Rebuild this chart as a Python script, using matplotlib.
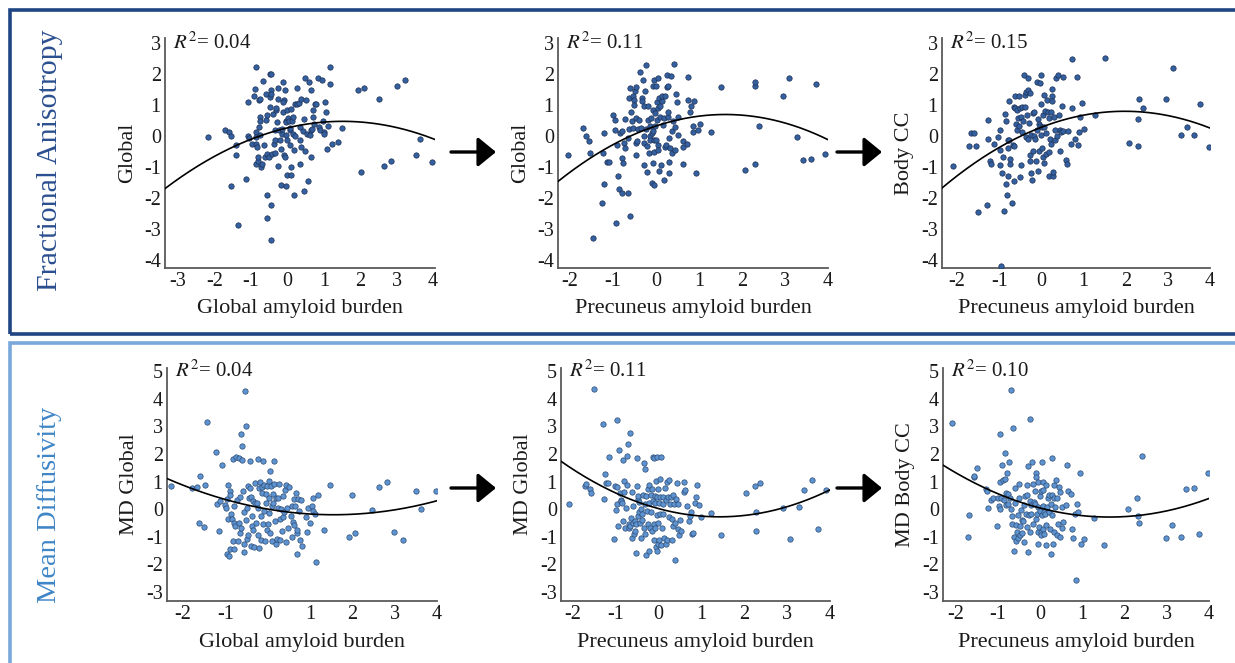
import numpy as np
import matplotlib
matplotlib.use('Agg')
import matplotlib.pyplot as plt
from matplotlib.patches import Rectangle, FancyArrowPatch

plt.rcParams['font.family'] = 'Liberation Serif'
plt.rcParams['mathtext.fontset'] = 'stix'
plt.rcParams['axes.unicode_minus'] = False

# points, flat x,y pairs
fa_global = [
    -2.19,-0.04, -1.71,0.19, -1.60,0.12, -1.55,-0.02, -1.42,-0.31, -1.41,-0.63, -1.55,-1.61, -1.37,-2.87,
    -1.15,-1.39, -1.09,1.10, -1.07,-0.02, -1.05,-0.08, -0.98,-0.26, -0.92,1.29, -0.89,1.52, -0.85,2.22,
    -0.85,0.12, -0.85,-0.04, -0.87,-0.26, -0.84,-0.37, -0.86,-0.90, -0.80,-0.80, -0.80,-0.69, -0.78,1.16,
    -0.75,1.18, -0.75,0.62, -0.75,0.49, -0.78,0.28, -0.74,0.03, -0.73,-1.01, -0.69,-0.90, -0.66,1.78,
    -0.65,-0.31, -0.62,-0.69, -0.57,-0.58, -0.58,1.35, -0.58,0.52, -0.57,0.66, -0.55,-1.92, -0.57,-2.65,
    -0.51,-0.69, -0.48,1.25, -0.47,2.00, -0.46,1.48, -0.48,0.92, -0.44,1.35, -0.44,1.98, -0.45,-2.22,
    -0.46,-3.35, -0.41,-0.58, -0.40,0.71, -0.36,-0.26, -0.35,0.17, -0.34,-0.56, -0.33,-0.15, -0.31,0.82,
    -0.30,0.90, -0.29,0.44, -0.27,1.55, -0.25,-0.96, -0.25,1.19, -0.24,0.17, -0.21,-0.15, -0.18,-0.44,
    -0.19,-1.58, -0.16,0.06, -0.15,0.23, -0.13,0.77, -0.12,1.73, -0.10,1.14, -0.11,1.09, -0.09,-0.63,
    -0.07,-0.69, -0.06,1.48, -0.05,0.49, -0.05,0.44, -0.03,-1.63, -0.04,0.01, -0.01,0.82, -0.01,-0.15,
    -0.01,-1.25, 0.02,0.58, 0.04,0.49, 0.06,0.17, 0.07,-0.31, 0.08,0.26, 0.09,0.87, 0.09,-1.25,
    0.11,-1.01, 0.13,0.49, 0.14,0.60, 0.16,0.06, 0.18,-0.47, 0.19,-1.92, 0.20,-0.02, 0.22,1.01,
    0.25,1.55, 0.26,1.03, 0.31,1.05, 0.34,0.28, 0.35,-0.15, 0.35,-0.92, 0.36,1.19, 0.38,-0.37,
    0.42,0.15, 0.45,-1.78, 0.45,0.55, 0.47,-0.49, 0.48,1.86, 0.52,1.16, 0.53,0.06, 0.56,-1.47,
    0.60,1.73, 0.62,0.04, 0.64,-0.69, 0.65,0.19, 0.65,1.48, 0.67,0.23, 0.69,0.62, 0.71,0.82,
    0.73,0.39, 0.75,1.01, 0.78,1.03, 0.84,1.87, 0.87,0.28, 0.90,0.20, 0.95,1.81, 0.97,0.47,
    1.00,0.12, 1.00,0.06, 1.02,1.09, 1.06,0.76, 1.09,-0.42, 1.11,0.30, 1.16,2.22, 1.18,1.68,
    1.22,-0.26, 1.38,-0.20, 1.51,0.25, 1.94,1.49, 2.02,-1.17, 2.09,1.55, 2.50,1.20, 2.65,-0.96,
    2.85,-0.82, 3.00,1.60, 3.22,1.80, 3.52,-0.63, 3.64,-0.11, 3.98,-0.83,
]

fa_prec = [
    -2.04,-0.61, -1.69,0.25, -1.64,0.00, -1.55,-0.18, -1.53,-0.54, -1.47,-3.30, -1.26,-2.15, -1.24,-0.56,
    -1.21,0.09, -1.20,-1.55, -1.15,-0.83, -1.09,-0.83, -0.99,0.68, -0.96,0.52, -0.96,0.19, -0.94,-2.82,
    -0.90,-0.29, -0.88,-1.31, -0.87,-1.72, -0.84,0.09, -0.80,0.14, -0.79,-1.85, -0.78,-0.72, -0.77,-0.88,
    -0.74,-0.24, -0.72,0.54, -0.72,-0.40, -0.66,-1.85, -0.65,-0.08, -0.63,0.23, -0.62,1.22, -0.60,1.54,
    -0.60,-2.58, -0.58,0.78, -0.57,0.49, -0.54,0.24, -0.54,1.27, -0.52,1.14, -0.51,1.00, -0.49,1.43,
    -0.47,1.57, -0.47,0.57, -0.47,-0.61, -0.46,-0.24, -0.44,-0.18, -0.41,0.23, -0.40,0.52, -0.38,2.04,
    -0.35,0.24, -0.33,1.22, -0.32,1.11, -0.30,1.81, -0.29,0.95, -0.28,-0.94, -0.27,-0.02, -0.27,-0.24,
    -0.26,1.43, -0.24,2.29, -0.23,0.22, -0.21,-0.34, -0.21,-1.18, -0.19,0.97, -0.18,0.52, -0.16,-0.56,
    -0.15,-0.02, -0.14,0.30, -0.13,-0.13, -0.12,0.57, -0.10,0.09, -0.09,-1.53, -0.08,0.84, -0.07,-0.88,
    -0.07,1.59, -0.06,0.14, -0.05,-0.13, -0.05,-0.51, -0.04,-1.58, -0.04,1.81, -0.02,0.73, -0.02,0.32,
    -0.01,-0.13, 0.01,1.61, 0.02,1.09, 0.02,0.52, 0.04,-0.29, 0.04,-0.47, 0.05,1.86, 0.05,0.89,
    0.06,-1.15, 0.07,1.22, 0.09,0.62, 0.10,0.97, 0.12,-0.94, 0.13,1.11, 0.15,1.29, 0.16,0.35,
    0.18,0.57, 0.19,-1.42, 0.21,-0.37, 0.22,1.27, 0.23,-0.29, 0.25,1.57, 0.26,1.97, 0.27,0.60,
    0.28,0.78, 0.29,1.61, 0.30,-1.20, 0.31,-0.08, 0.31,-0.83, 0.33,-0.40, 0.35,1.94, 0.37,-0.56,
    0.38,0.14, 0.40,0.46, 0.42,2.30, 0.43,0.28, 0.44,-0.47, 0.47,1.35, 0.48,1.08, 0.50,0.01,
    0.52,0.60, 0.62,-0.18, 0.63,-0.37, 0.62,-0.91, 0.71,-0.26, 0.74,1.88, 0.74,1.14, 0.80,0.75,
    0.82,0.95, 0.86,0.33, 0.87,0.12, 0.89,1.12, 0.93,-1.20, 0.97,0.19, 1.03,0.38, 1.27,0.12,
    1.50,1.57, 2.07,-1.10, 2.30,-0.90, 2.31,1.61, 2.31,1.72, 2.39,0.30, 2.95,1.27, 3.09,1.86,
    3.28,-0.04, 3.42,-0.77, 3.60,-0.75, 3.73,1.67, 3.93,-0.58,
]

fa_body = [
    -2.09,-0.97, -1.72,-0.34, -1.68,0.09, -1.59,0.09, -1.56,-0.32, -1.50,-2.47, -1.30,-2.24, -1.26,0.52,
    -1.26,-0.10, -1.23,-0.82, -1.19,-0.90, -1.13,-0.26, -1.04,-0.04, -0.99,0.19, -0.99,-0.45, -0.98,-0.94,
    -0.97,-4.18, -0.93,-1.20, -0.91,-0.69, -0.90,-2.41, -0.86,0.71, -0.84,0.47, -0.83,-1.55, -0.82,-1.92,
    -0.80,-1.28, -0.80,-0.39, -0.79,-0.15, -0.77,1.12, -0.76,-0.13, -0.75,-0.92, -0.74,-0.74, -0.70,-2.17,
    -0.68,-0.31, -0.66,0.92, -0.65,-0.34, -0.64,-1.46, -0.62,1.27, -0.62,0.88, -0.60,0.37, -0.58,0.82,
    -0.58,0.17, -0.56,0.58, -0.54,0.33, -0.53,1.27, -0.51,0.90, -0.50,-1.33, -0.49,-0.94, -0.48,0.62,
    -0.47,0.12, -0.45,0.92, -0.44,0.49, -0.42,1.95, -0.40,1.30, -0.39,0.92, -0.37,1.41, -0.36,-0.04,
    -0.34,0.66, -0.32,1.87, -0.32,1.46, -0.31,-0.10, -0.29,0.41, -0.28,-0.63, -0.28,1.38, -0.26,-0.80,
    -0.25,0.04, -0.24,-1.20, -0.23,-1.42, -0.21,0.73, -0.20,-0.49, -0.18,-0.02, -0.17,0.78, -0.15,-0.10,
    -0.13,-0.80, -0.11,0.17, -0.10,1.73, -0.09,0.55, -0.07,-1.12, -0.06,0.39, -0.06,-0.49, -0.04,0.33,
    -0.03,1.70, -0.02,0.04, -0.01,1.01, 0.00,1.95, 0.01,0.28, 0.02,-0.39, 0.03,0.66, 0.04,-0.69,
    0.06,1.30, 0.06,-0.88, 0.07,0.28, 0.09,0.80, 0.10,-0.58, 0.11,0.09, 0.13,1.14, 0.15,0.76,
    0.17,-1.28, 0.17,-0.53, 0.19,0.58, 0.21,-0.10, 0.22,-0.26, 0.23,0.76, 0.25,1.51, 0.25,1.27,
    0.26,1.12, 0.27,-1.31, 0.28,-1.17, 0.29,0.62, 0.31,0.17, 0.32,-0.13, 0.34,1.86, 0.36,-0.02,
    0.39,1.95, 0.41,0.66, 0.43,0.19, 0.45,-0.49, 0.47,0.12, 0.48,0.95, 0.52,1.89, 0.52,0.15,
    0.59,-0.77, 0.61,-0.92, 0.62,0.15, 0.70,-0.26, 0.73,2.46, 0.73,0.90, 0.80,-0.10, 0.85,1.89,
    0.86,-0.31, 0.90,0.12, 0.92,0.60, 0.96,1.05, 1.02,0.23, 1.26,0.68, 1.50,2.52, 2.08,-0.23,
    2.30,-0.34, 2.30,0.55, 2.32,1.18, 2.40,0.89, 2.96,1.18, 3.12,2.18, 3.32,0.04, 3.45,0.28,
    3.63,0.03, 3.76,1.01, 3.97,-0.37,
]

md_global = [
    -2.28,0.85, -1.80,0.77, -1.67,0.82, -1.62,-0.49, -1.61,1.22, -1.51,-0.65, -1.48,0.88, -1.44,3.17,
    -1.22,2.07, -1.20,0.18, -1.15,-0.79, -1.13,0.30, -1.07,1.61, -1.01,0.15, -0.98,0.06, -0.97,0.37,
    -0.96,-1.62, -0.94,0.88, -0.93,-0.37, -0.91,-1.71, -0.90,0.67, -0.88,0.51, -0.88,-1.46, -0.87,-0.16,
    -0.85,-0.34, -0.82,1.83, -0.81,-1.16, -0.80,-1.46, -0.80,-0.49, -0.79,0.12, -0.77,-0.61, -0.74,1.88,
    -0.72,0.34, -0.71,-1.16, -0.69,1.85, -0.68,-0.49, -0.65,-0.85, -0.65,0.45, -0.64,2.71, -0.63,-0.67,
    -0.61,2.29, -0.60,1.79, -0.59,0.67, -0.57,-0.10, -0.57,-1.26, -0.55,-1.56, -0.54,4.29, -0.52,3.01,
    -0.51,-0.40, -0.50,-1.07, -0.48,0.06, -0.47,-0.95, -0.46,0.85, -0.44,0.39, -0.42,0.76, -0.41,1.73,
    -0.40,-1.32, -0.39,0.43, -0.38,-0.24, -0.36,-0.61, -0.35,0.30, -0.34,-0.76, -0.33,-1.38, -0.31,0.95,
    -0.30,0.21, -0.28,-0.49, -0.26,0.24, -0.24,1.83, -0.23,0.06, -0.22,-0.95, -0.20,-1.40, -0.20,0.76,
    -0.19,1.00, -0.17,-0.24, -0.16,-1.12, -0.14,0.59, -0.13,0.79, -0.11,1.74, -0.10,-0.55, -0.09,-0.06,
    -0.08,0.88, -0.06,-1.16, -0.05,0.24, -0.03,0.55, -0.02,-0.76, -0.01,0.83, 0.00,-0.52, 0.02,1.04,
    0.03,0.39, 0.04,-0.15, 0.06,1.38, 0.06,-0.88, 0.08,0.85, 0.09,0.12, 0.11,-1.16, 0.13,0.24,
    0.13,0.55, 0.14,1.76, 0.15,0.93, 0.17,-0.43, 0.19,0.39, 0.20,-1.26, 0.22,-1.07, 0.24,0.39,
    0.25,0.06, 0.27,0.91, 0.28,-0.34, 0.29,-1.10, 0.31,0.02, 0.33,-0.79, 0.35,-0.30, 0.37,0.46,
    0.39,-0.10, 0.41,0.71, 0.43,0.88, 0.44,-1.20, 0.46,0.06, 0.49,-0.67, 0.51,0.79, 0.54,-0.24,
    0.57,0.12, 0.58,-1.00, 0.60,-0.45, 0.61,0.37, 0.63,-0.59, 0.65,0.12, 0.67,0.59, 0.69,-0.88,
    0.69,-1.61, 0.70,-0.76, 0.72,0.37, 0.75,-0.06, 0.77,-1.13, 0.79,0.34, 0.80,-1.34, 0.91,-0.30,
    0.93,-0.83, 0.96,0.06, 1.00,-0.49, 1.04,0.12, 1.06,-0.06, 1.07,0.39, 1.12,-0.18, 1.14,-1.91,
    1.18,0.51, 1.34,-0.77, 1.48,0.89, 1.91,-1.00, 1.99,0.51, 2.07,-0.85, 2.46,-0.04, 2.63,0.79,
    2.83,0.98, 2.99,-0.82, 3.19,-1.13, 3.50,0.65, 3.62,0.02, 3.97,0.65,
]

md_prec = [
    -2.09,0.18, -1.72,0.85, -1.69,0.91, -1.60,0.73, -1.58,0.59, -1.50,4.35, -1.30,3.09, -1.27,0.37,
    -1.25,1.28, -1.23,0.94, -1.19,0.94, -1.15,1.89, -1.04,-1.07, -1.02,0.85, -1.00,-0.04, -0.98,3.23,
    -0.98,0.18, -0.97,0.79, -0.94,-0.61, -0.92,2.13, -0.91,0.57, -0.89,0.33, -0.88,0.30, -0.86,0.21,
    -0.84,1.80, -0.83,-0.43, -0.81,1.04, -0.80,0.61, -0.78,-0.67, -0.77,0.06, -0.74,1.94, -0.73,0.89,
    -0.72,2.35, -0.70,-0.67, -0.69,-0.55, -0.66,-0.61, -0.66,2.77, -0.64,-0.33, -0.63,-1.04, -0.62,0.63,
    -0.61,0.12, -0.59,-0.49, -0.58,-0.89, -0.56,-0.43, -0.55,-0.79, -0.53,-1.59, -0.52,-0.55, -0.51,1.87,
    -0.50,0.85, -0.49,0.37, -0.48,-0.24, -0.48,0.49, -0.46,0.27, -0.45,-0.12, -0.44,-0.49, -0.42,-1.04,
    -0.41,0.00, -0.39,-0.40, -0.38,-0.18, -0.36,0.52, -0.35,-0.70, -0.34,1.67, -0.33,0.18, -0.32,1.44,
    -0.31,-0.91, -0.30,0.49, -0.29,-1.65, -0.27,-0.06, -0.26,0.73, -0.25,-0.55, -0.23,-1.50, -0.23,0.24,
    -0.22,0.89, -0.20,-0.70, -0.19,0.52, -0.17,-0.09, -0.16,-0.79, -0.15,0.73, -0.14,1.89, -0.13,0.28,
    -0.12,1.87, -0.11,-1.10, -0.10,-0.52, -0.09,0.49, -0.09,-0.67, -0.08,0.21, -0.07,-1.38, -0.06,1.01,
    -0.05,-1.52, -0.05,-0.21, -0.04,0.43, -0.03,1.89, -0.02,-1.26, -0.02,-0.49, -0.01,0.73, 0.00,0.24,
    0.01,-1.10, 0.02,-0.16, 0.03,1.10, 0.04,0.45, 0.05,-1.30, 0.06,1.91, 0.08,-0.67, 0.09,0.18,
    0.09,-0.18, 0.11,0.43, 0.13,-1.04, 0.14,0.77, 0.16,-1.28, 0.17,0.33, 0.19,0.98, 0.20,-1.10,
    0.22,0.43, 0.23,1.06, 0.25,-0.30, 0.27,0.18, 0.28,0.45, 0.30,-1.13, 0.31,-0.37, 0.33,0.52,
    0.34,-0.61, 0.36,0.18, 0.38,-1.83, 0.39,-0.49, 0.41,0.37, 0.42,0.94, 0.44,-0.73, 0.45,0.18,
    0.47,-0.94, 0.50,-0.40, 0.51,-0.79, 0.58,0.98, 0.59,0.61, 0.61,0.70, 0.67,0.12, 0.70,-0.43,
    0.73,-0.26, 0.75,-0.09, 0.77,-0.91, 0.81,-0.85, 0.84,0.21, 0.86,0.45, 0.90,0.89, 0.94,0.15,
    0.98,-0.30, 1.23,-0.15, 1.45,-0.94, 2.04,0.57, 2.25,0.85, 2.27,-0.79, 2.28,-0.12, 2.36,0.95,
    2.91,0.04, 3.06,-1.07, 3.27,0.09, 3.39,0.70, 3.58,1.06, 3.71,-0.73, 3.91,0.71,
]

md_body = [
    -2.08,3.11, -1.71,-1.02, -1.69,-0.20, -1.57,1.15, -1.56,1.19, -1.49,1.49, -1.27,0.73, -1.26,0.66,
    -1.23,0.06, -1.16,0.33, -1.11,0.39, -1.02,-0.62, -1.00,0.42, -0.98,0.12, -0.96,2.72, -0.96,1.00,
    -0.94,0.02, -0.92,0.39, -0.91,1.59, -0.89,1.06, -0.86,0.33, -0.84,1.10, -0.82,2.04, -0.81,0.58,
    -0.80,0.15, -0.78,1.31, -0.77,0.54, -0.76,0.18, -0.74,1.71, -0.72,0.42, -0.70,0.02, -0.68,4.31,
    -0.66,-0.24, -0.66,-0.53, -0.64,2.96, -0.62,-1.51, -0.62,-1.02, -0.60,0.78, -0.59,0.21, -0.58,-0.56,
    -0.56,-1.14, -0.55,-0.81, -0.53,-0.20, -0.52,-1.05, -0.51,0.39, -0.49,0.91, -0.48,-0.61, -0.47,-0.95,
    -0.45,-0.04, -0.43,-0.40, -0.42,-0.86, -0.40,-0.44, -0.39,-1.20, -0.37,0.15, -0.36,0.49, -0.34,-0.16,
    -0.32,0.88, -0.32,0.51, -0.30,-0.65, -0.29,1.55, -0.28,-1.57, -0.27,-0.20, -0.25,3.27, -0.25,-0.81,
    -0.23,0.29, -0.21,0.15, -0.21,-0.16, -0.19,1.71, -0.17,0.91, -0.17,-0.53, -0.15,0.27, -0.13,0.66,
    -0.12,0.17, -0.10,1.31, -0.09,-0.37, -0.09,1.15, -0.07,-0.16, -0.06,-0.83, -0.06,0.98, -0.05,-1.26,
    -0.04,0.09, -0.02,-0.65, -0.01,0.49, 0.00,-0.07, 0.01,-0.81, 0.02,0.66, 0.03,-0.95, 0.04,-0.20,
    0.05,1.71, 0.06,0.98, 0.06,0.12, 0.07,-0.73, 0.08,0.70, 0.09,-0.10, 0.10,-0.89, 0.11,-0.16,
    0.13,-0.56, 0.13,0.88, 0.15,-1.30, 0.17,0.09, 0.18,0.42, 0.20,-0.12, 0.21,0.51, 0.23,-0.73,
    0.25,0.17, 0.26,-1.63, 0.27,-0.22, 0.28,1.86, 0.29,0.51, 0.31,-1.26, 0.32,0.88, 0.32,0.39,
    0.34,-0.81, 0.36,0.09, 0.37,1.06, 0.39,0.42, 0.41,-0.95, 0.43,-0.53, 0.45,0.82, 0.47,0.61,
    0.48,-1.02, 0.51,0.09, 0.52,-0.69, 0.54,-0.47, 0.61,0.15, 0.64,1.59, 0.66,0.66, 0.74,0.54,
    0.75,-0.73, 0.77,-1.05, 0.82,-0.16, 0.86,-2.57, 0.88,0.17, 0.90,-0.10, 0.94,1.32, 0.98,-1.26,
    1.04,-1.08, 1.28,-0.32, 1.52,-1.30, 2.09,0.00, 2.30,0.42, 2.32,-0.24, 2.35,-0.49, 2.42,1.92,
    2.98,-1.04, 3.12,-0.59, 3.33,-1.02, 3.45,0.72, 3.64,0.78, 3.77,-0.89, 3.98,1.31,
]

r2_top = ['0.04', '0.11', '0.15']
r2_bottom = ['0.04', '0.11', '0.10']
ylabels_top = ['Global', 'Global', 'Body CC']
ylabels_bottom = ['MD Global', 'MD Global', 'MD Body CC']
xlabels = ['Global amyloid burden', 'Precuneus amyloid burden', 'Precuneus amyloid burden']

W, H = 1235, 663
fig = plt.figure(figsize=(W / 100, H / 100), dpi=100)

def px_rect(l, t, r, b):
    return [l / W, 1 - b / H, (r - l) / W, (b - t) / H]

top_boxes = [(165, 38, 435, 268), (558, 38, 828, 268), (942, 38, 1210, 268)]
bot_boxes = [(167, 368, 437, 601), (561, 368, 830, 601), (943, 368, 1209, 601)]
top_xlim = [(-3.36, 4.05), (-2.28, 4.0), (-2.36, 4.0)]
bot_xlim = [(-2.38, 4.0), (-2.28, 4.0), (-2.3, 4.0)]

top_color, top_edge = '#35609f', '#1c2f55'
bot_color, bot_edge = '#5d93d1', '#2c4a72'


def scatter_panel(box, data, xlim, ylim, yticks, ylab, xlab, r2, fc, ec, rtop):
    ax = fig.add_axes(px_rect(*box))
    pts = np.array(data).reshape(-1, 2)
    x, y = pts[:, 0], pts[:, 1]
    ax.scatter(x, y, s=15, color=fc, edgecolor=ec, linewidth=0.5, zorder=3)
    c = np.polyfit(x, y, 2)
    xx = np.linspace(xlim[0], xlim[1], 200)
    ax.plot(xx, np.polyval(c, xx), color='black', lw=1.2, zorder=4)
    ax.set_xlim(*xlim)
    ax.set_ylim(*ylim)
    ax.set_yticks(yticks)
    ax.set_xticks(range(int(np.ceil(xlim[0])), 5))
    for s in ['top', 'right']:
        ax.spines[s].set_visible(False)
    for s in ['left', 'bottom']:
        ax.spines[s].set_color('#5a5a5a')
        ax.spines[s].set_linewidth(1.3)
    ax.tick_params(length=0, labelsize=14.5, pad=3, colors='#1a1a1a')
    ax.set_ylabel(ylab, fontsize=16, labelpad=5, color='#1a1a1a')
    ax.set_xlabel(xlab, fontsize=16, labelpad=6, color='#1a1a1a')
    ax.text(0.03, rtop, r'$R^2$= ' + r2, transform=ax.get_yaxis_transform(),
            fontsize=15, va='center', ha='left', color='#1a1a1a')
    return ax


for i in range(3):
    scatter_panel(top_boxes[i], [fa_global, fa_prec, fa_body][i], top_xlim[i], (-4.26, 3.15),
                  range(-4, 4), ylabels_top[i], xlabels[i], r2_top[i], top_color, top_edge, 3.0)
    scatter_panel(bot_boxes[i], [md_global, md_prec, md_body][i], bot_xlim[i], (-3.33, 5.12),
                  range(-3, 6), ylabels_bottom[i], xlabels[i], r2_bottom[i], bot_color, bot_edge, 5.0)

# framed boxes around each row
fig.add_artist(Rectangle((9.5 / W, 1 - 334 / H), 1.2, 324.5 / H, transform=fig.transFigure,
                         fill=False, edgecolor='#1f4583', lw=2.6, clip_on=False))
fig.add_artist(Rectangle((9.5 / W, -0.2), 1.2, 0.2 + 1 - 343 / H, transform=fig.transFigure,
                         fill=False, edgecolor='#78a8dc', lw=2.6, clip_on=False))

fig.text(50 / W, 1 - 160 / H, 'Fractional Anisotropy', rotation=90, fontsize=21.5,
         color='#2b4f8f', ha='center', va='center')
fig.text(50 / W, 1 - 505 / H, 'Mean Diffusivity', rotation=90, fontsize=20.5,
         color='#3f86c6', ha='center', va='center')

# arrows between the panels
for yy in [152, 488]:
    for xa, xb in [(451, 496), (837, 882)]:
        fig.add_artist(FancyArrowPatch((xa / W, 1 - yy / H), (xb / W, 1 - yy / H),
                                       transform=fig.transFigure,
                                       arrowstyle='-|>,head_length=1.1,head_width=0.9',
                                       mutation_scale=10, lw=2.4, color='black',
                                       shrinkA=0, shrinkB=0))

fig.savefig('out.png', dpi=100)
